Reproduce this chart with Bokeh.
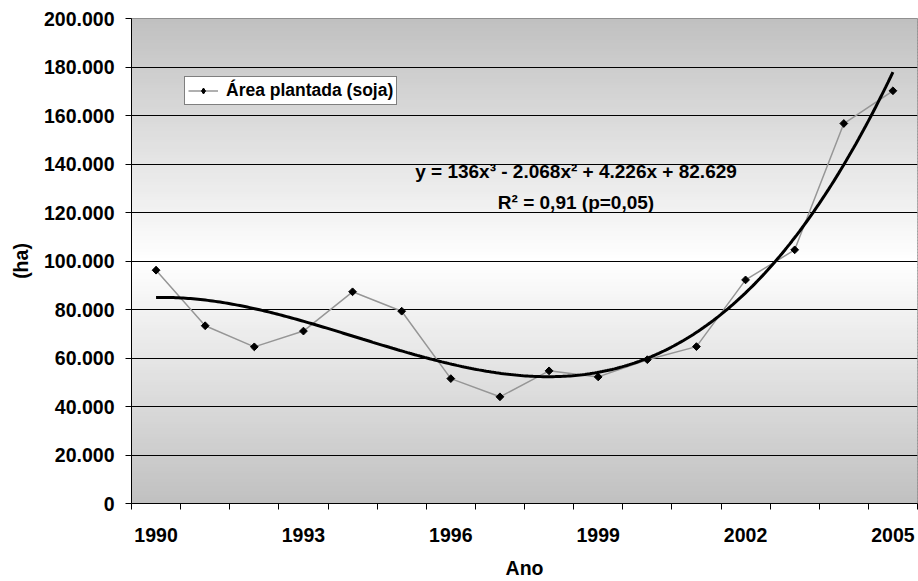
import numpy as np
from bokeh.plotting import figure
from bokeh.models import (FixedTicker, Legend, LegendItem, Label, Range1d)
from bokeh.embed import file_html
from bokeh.resources import INLINE

# ---- data ----
years = [1990, 1991, 1992, 1993, 1994, 1995, 1996, 1997, 1998, 1999,
         2000, 2001, 2002, 2003, 2004, 2005]
area_ha = [96200, 73300, 64600, 71100, 87300, 79300, 51500, 44000, 54700, 52200,
           59300, 64700, 92200, 104600, 156700, 170200]
# cubic trend coefficients as printed on the chart (x = 1..16 index)
trend_coef = [136, -2068, 4226, 82629]
x_tick_years = [1990, 1993, 1996, 1999, 2002, 2005]
y_ticks = [0, 20000, 40000, 60000, 80000, 100000, 120000, 140000, 160000, 180000, 200000]
y_tick_labels = ["0", "20.000", "40.000", "60.000", "80.000", "100.000", "120.000",
                 "140.000", "160.000", "180.000", "200.000"]
equation_text = "y = 136x³ - 2.068x² + 4.226x + 82.629"
r2_text = "R² = 0,91 (p=0,05)"
legend_label = "Área plantada (soja)"

FONT = "Liberation Sans"

x0, x1 = years[0] - 0.5, years[-1] + 0.5
y0, y1 = y_ticks[0], y_ticks[-1]

p = figure(width=918, height=581, output_backend="svg", toolbar_location=None,
           x_range=Range1d(x0, x1), y_range=Range1d(y0, y1))
p.min_border_left = 131
p.min_border_right = 1
p.min_border_top = 18
p.min_border_bottom = 78
p.background_fill_color = "white"
p.border_fill_color = "white"
p.outline_line_color = "#808080"
p.outline_line_width = 1

# ---- gradient background (gray -> white -> gray) ----
n = 160
edges = np.linspace(y0, y1, n + 1)
step = edges[1] - edges[0]
mid = (edges[:-1] + edges[1:]) / 2
center = (y0 + y1) / 2
half = (y1 - y0) / 2
cols = []
for m in mid:
    t = abs(m - center) / half
    g = int(round(255 - (255 - 192) * t))
    cols.append("#%02x%02x%02x" % (g, g, g))
tops = np.minimum(edges[1:] + step * 0.6, y1)
bg = p.quad(left=x0, right=x1, bottom=edges[:-1], top=tops,
            fill_color=cols, line_color=None)
bg.level = "image"

# ---- grid ----
p.xgrid.visible = False
p.ygrid.ticker = FixedTicker(ticks=y_ticks)
p.ygrid.grid_line_color = "black"
p.ygrid.grid_line_width = 1

# ---- data series ----
ln = p.line(years, area_ha, line_color="#969696", line_width=1.5)
# diamond used for the legend swatch (hidden under the first data marker)
leg_mk = p.scatter(years[:1], area_ha[:1], marker="diamond", size=7,
                   fill_color="black", line_color="black")
sc = p.scatter(years, area_ha, marker="square", angle=np.pi / 4, size=5.5,
               fill_color="black", line_color="black")

# ---- trend line ----
xi = np.linspace(1, len(years), 300)
yi = np.polyval(trend_coef, xi)
p.line(xi + (years[0] - 1), yi, line_color="black", line_width=3)

# ---- axes ----
xa = p.xaxis[0]
xa.ticker = FixedTicker(ticks=x_tick_years,
                        minor_ticks=[y - 0.5 for y in years] + [years[-1] + 0.5])
xa.major_tick_out = 0
xa.major_tick_in = 0
xa.minor_tick_out = 6
xa.minor_tick_in = 0
xa.minor_tick_line_color = "black"
xa.axis_line_color = "black"
xa.major_label_text_font = FONT
xa.major_label_text_font_style = "bold"
xa.major_label_text_font_size = "19.5px"
xa.major_label_text_color = "black"
xa.major_label_standoff = 18
xa.axis_label = "Ano"
xa.axis_label_text_font = FONT
xa.axis_label_text_font_style = "bold"
xa.axis_label_text_font_size = "19.5px"
xa.axis_label_text_color = "black"
xa.axis_label_standoff = 12

ya = p.yaxis[0]
ya.ticker = FixedTicker(ticks=y_ticks)
ya.major_label_overrides = {t: l for t, l in zip(y_ticks, y_tick_labels)}
ya.major_tick_out = 6
ya.major_tick_in = 0
ya.minor_tick_out = 0
ya.minor_tick_in = 0
ya.axis_line_color = "black"
ya.major_tick_line_color = "black"
ya.major_label_text_font = FONT
ya.major_label_text_font_style = "bold"
ya.major_label_text_font_size = "19.5px"
ya.major_label_text_color = "black"
ya.major_label_standoff = 11
ya.axis_label = "(ha)"
ya.axis_label_text_font = FONT
ya.axis_label_text_font_style = "bold"
ya.axis_label_text_font_size = "19.5px"
ya.axis_label_text_color = "black"
ya.axis_label_standoff = 9

# ---- legend ----
legend = Legend(items=[LegendItem(label=legend_label, renderers=[ln, leg_mk])],
                location=(53, 398))
legend.label_text_font = FONT
legend.label_text_font_style = "bold"
legend.label_text_font_size = "17.5px"
legend.label_text_color = "black"
legend.border_line_color = "black"
legend.border_line_width = 1
legend.background_fill_color = "white"
legend.background_fill_alpha = 1
legend.padding = 3
legend.margin = 0
legend.glyph_width = 30
legend.glyph_height = 15
legend.label_height = 15
legend.label_standoff = 8
p.add_layout(legend, "center")

# ---- equation labels ----
for txt, yy in [(equation_text, 332), (r2_text, 301)]:
    p.add_layout(Label(x=444.5, y=yy, x_units="screen", y_units="screen", text=txt,
                       text_align="center", text_baseline="middle",
                       text_font=FONT, text_font_style="bold",
                       text_font_size="19px", text_color="black"))

open("out.html", "w").write(file_html(p, INLINE))
